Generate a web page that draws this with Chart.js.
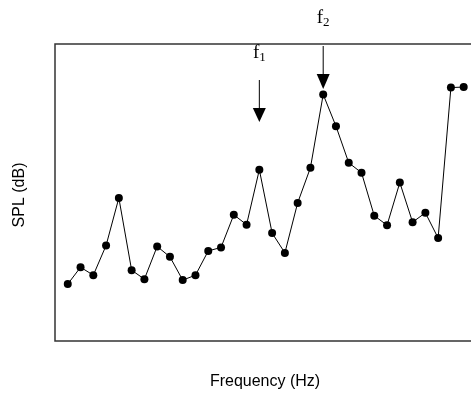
<!DOCTYPE html>
<html>
<head>
<meta charset="utf-8">
<script src="https://cdn.jsdelivr.net/npm/chart.js@4"></script>
<style>
  html, body { margin: 0; padding: 0; background: #fff; overflow: hidden; }
  #wrap { width: 471px; height: 404px; position: relative; }
  canvas { display: block; }
</style>
</head>
<body>
<div id="wrap"><canvas id="chart"></canvas></div>
<script>
// frequency bins (index) and measured SPL (dB, arbitrary reference)
const bins = [1, 2, 3, 4, 5, 6, 7, 8, 9, 10, 11, 12, 13, 14, 15, 16,
  17, 18, 19, 20, 21, 22, 23, 24, 25, 26, 27, 28, 29, 30, 31, 32];
const spl = [11.5, 14.9, 13.3, 19.3, 28.9, 14.3, 12.5, 19.1, 17.0, 12.3, 13.3, 18.2, 18.9, 25.5, 23.5, 34.6,
  21.8, 17.8, 27.9, 35.0, 49.8, 43.4, 36.0, 34.0, 25.3, 23.4, 32.0, 24.0, 25.9, 20.8, 51.2, 51.3];
// marked frequencies: label and the bin they point at
const markers = [
  { name: '1', bin: 16 },
  { name: '2', bin: 21 },
];
const xTitle = 'Frequency (Hz)';
const yTitle = 'SPL (dB)';

const framePlugin = {
  id: 'frame',
  afterDraw(chart) {
    const { ctx, chartArea: a, scales } = chart;
    ctx.save();
    // open frame: left, top, bottom (right side runs off the page)
    ctx.strokeStyle = '#333';
    ctx.lineWidth = 1.5;
    ctx.beginPath();
    ctx.moveTo(chart.width, a.top);
    ctx.lineTo(a.left, a.top);
    ctx.lineTo(a.left, a.bottom);
    ctx.lineTo(chart.width, a.bottom);
    ctx.stroke();

    // axis titles
    ctx.fillStyle = '#000';
    ctx.font = '16px "Liberation Sans", Arial, sans-serif';
    ctx.textAlign = 'center';
    ctx.textBaseline = 'middle';
    ctx.fillText(xTitle, 265, 382);
    ctx.save();
    ctx.translate(20, 195);
    ctx.rotate(-Math.PI / 2);
    ctx.fillText(yTitle, 0, 0);
    ctx.restore();

    // frequency markers: f1 low above its peak, f2 above the frame
    const cfg = [
      { textY: 60, shaftTop: 80, shaftBot: 108, tip: 122 },
      { textY: 25, shaftTop: 46, shaftBot: 74, tip: 89 },
    ];
    markers.forEach((m, i) => {
      const x = scales.x.getPixelForValue(m.bin);
      const c = cfg[i];
      ctx.strokeStyle = '#000';
      ctx.lineWidth = 1;
      ctx.beginPath();
      ctx.moveTo(x, c.shaftTop);
      ctx.lineTo(x, c.shaftBot);
      ctx.stroke();
      ctx.beginPath();
      ctx.moveTo(x - 6.5, c.shaftBot);
      ctx.lineTo(x + 6.5, c.shaftBot);
      ctx.lineTo(x, c.tip);
      ctx.closePath();
      ctx.fill();

      ctx.textBaseline = 'alphabetic';
      ctx.textAlign = 'left';
      ctx.font = '19px "Liberation Serif", "Times New Roman", serif';
      const fw = ctx.measureText('f').width;
      ctx.font = '13px "Liberation Serif", "Times New Roman", serif';
      const sw = ctx.measureText(m.name).width;
      const x0 = x - (fw + sw) / 2;
      ctx.font = '19px "Liberation Serif", "Times New Roman", serif';
      ctx.fillText('f', x0, c.textY - 2);
      ctx.font = '13px "Liberation Serif", "Times New Roman", serif';
      ctx.fillText(m.name, x0 + fw, c.textY + 1);
    });
    ctx.restore();
  }
};

new Chart(document.getElementById('chart'), {
  type: 'line',
  data: {
    datasets: [{
      data: bins.map((b, i) => ({ x: b, y: spl[i] })),
      borderColor: '#000',
      backgroundColor: '#000',
      borderWidth: 1,
      pointRadius: 4,
      pointBorderWidth: 0,
      tension: 0,
      clip: false,
    }],
  },
  options: {
    responsive: true,
    maintainAspectRatio: false,
    animation: false,
    layout: { padding: { left: 55, top: 44, right: 0, bottom: 63 } },
    scales: {
      x: { type: 'linear', min: 0, max: 32.26, display: false },
      y: { min: 0, max: 60, display: false },
    },
    plugins: {
      legend: { display: false },
      tooltip: { enabled: false },
    },
  },
  plugins: [framePlugin],
});
</script>
</body>
</html>
